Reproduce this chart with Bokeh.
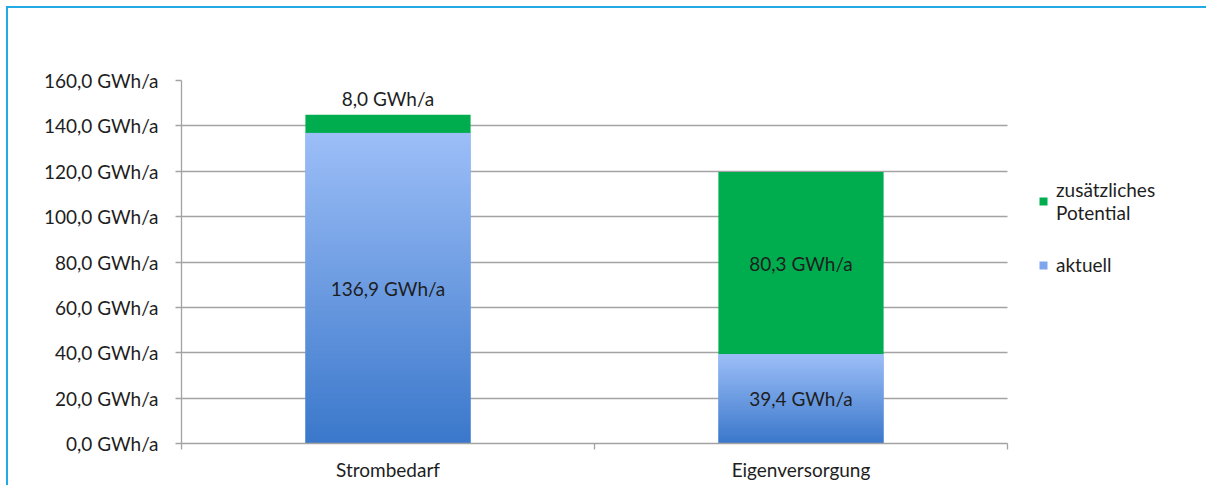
import numpy as np
from bokeh.plotting import figure
from bokeh.models import FixedTicker, Legend, LegendItem, Range1d, ColumnDataSource
from bokeh.core.properties import value
from bokeh.embed import file_html
from bokeh.resources import INLINE

# ---- data ----
categories = ["Strombedarf", "Eigenversorgung"]
aktuell = [136.9, 39.4]
potential = [8.0, 80.3]
y_ticks = [0, 20, 40, 60, 80, 100, 120, 140, 160]
series_labels = ["zusätzliches\nPotential", "aktuell"]

# ---- style ----
FONT = "Lato"
FS = "19px"
TXT = "#1e1e1e"
GRID = "#a3a3a3"
GREEN = "#00ad4e"
BLUE_TOP = (157, 191, 248)
BLUE_BOT = (59, 120, 203)
BLUE_MID = "#7ea6ec"
BAR_W = 0.4

W, H = 1200, 479
LEFT, TOP = 173, 72
BOTTOM = H - TOP - 363
PLOT_W = 826  # width of the category area in px


def fmt(v):
    return f"{v:.1f}".replace(".", ",") + " GWh/a"


n = len(categories)
xc = [i + 0.5 for i in range(n)]
totals = [a + b for a, b in zip(aktuell, potential)]
frame_w = W - LEFT
x_end = n * frame_w / PLOT_W

p = figure(width=W, height=H, x_range=Range1d(0, x_end), y_range=Range1d(y_ticks[0], y_ticks[-1]),
           output_backend="svg", toolbar_location=None,
           min_border_left=LEFT, min_border_top=TOP, min_border_right=0, min_border_bottom=BOTTOM)
p.styles = {"margin-left": "6px", "margin-top": "6px",
            "border-top": "2px solid #22aae6", "border-left": "2px solid #22aae6"}
p.outline_line_color = None
p.background_fill_color = "white"
p.border_fill_color = "white"

# bars
src = ColumnDataSource(dict(x=xc, akt=aktuell, pot=potential, tot=totals))
r_akt = p.vbar(x="x", bottom=0, top="akt", width=BAR_W, source=src,
               fill_color=BLUE_MID, line_color=None)
r_pot = p.vbar(x="x", bottom="akt", top="tot", width=BAR_W, source=src,
               fill_color=GREEN, line_color=None)

# gradient overlay for the "aktuell" bars
N = 256
t = np.linspace(0.0, 1.0, N)[:, None]
img = np.empty((N, 1), dtype=np.uint32)
view = img.view(dtype=np.uint8).reshape((N, 1, 4))
for k in range(3):
    view[:, :, k] = (BLUE_BOT[k] + (BLUE_TOP[k] - BLUE_BOT[k]) * t).astype(np.uint8)
view[:, :, 3] = 255
p.image_rgba(image=[img] * n, x=[c - BAR_W / 2 for c in xc], y=[0] * n,
             dw=[BAR_W] * n, dh=aktuell)

# data labels
in_x, in_y, in_t, ab_x, ab_y, ab_t = [], [], [], [], [], []
for i in range(n):
    in_x.append(xc[i]); in_y.append(aktuell[i] / 2); in_t.append(fmt(aktuell[i]))
    if potential[i] < 0.1 * y_ticks[-1]:
        ab_x.append(xc[i]); ab_y.append(totals[i]); ab_t.append(fmt(potential[i]))
    else:
        in_x.append(xc[i]); in_y.append(aktuell[i] + potential[i] / 2); in_t.append(fmt(potential[i]))
p.text(x=in_x, y=in_y, text=in_t, text_align="center", text_baseline="middle",
       text_font=value(FONT), text_font_size=FS, text_color=TXT)
p.text(x=ab_x, y=ab_y, text=ab_t, text_align="center", text_baseline="bottom", y_offset=-5,
       text_font=value(FONT), text_font_size=FS, text_color=TXT)

# axes
xa = p.xaxis[0]
xa.bounds = (0, n)
xa.ticker = FixedTicker(ticks=xc, minor_ticks=list(range(n + 1)))
xa.major_label_overrides = {c: lab for c, lab in zip(xc, categories)}
xa.major_tick_out = 0
xa.major_tick_in = 0
xa.minor_tick_out = 6
xa.minor_tick_in = 0
xa.minor_tick_line_color = GRID
xa.minor_tick_line_width = 1.3
xa.axis_line_color = GRID
xa.axis_line_width = 1.3
xa.major_label_standoff = 8
xa.major_label_text_font = FONT
xa.major_label_text_font_size = FS
xa.major_label_text_color = TXT

ya = p.yaxis[0]
ya.ticker = FixedTicker(ticks=y_ticks)
ya.major_label_overrides = {v: fmt(v) for v in y_ticks}
ya.major_tick_out = 6
ya.major_tick_in = 0
ya.minor_tick_line_color = None
ya.major_tick_line_color = GRID
ya.major_tick_line_width = 1.3
ya.axis_line_color = GRID
ya.axis_line_width = 1.3
ya.major_label_standoff = 17
ya.major_label_text_font = FONT
ya.major_label_text_font_size = FS
ya.major_label_text_color = TXT

p.xgrid.grid_line_color = None
p.ygrid.ticker = FixedTicker(ticks=y_ticks)
p.ygrid.cross_bounds = (0, n)
p.ygrid.grid_line_color = GRID
p.ygrid.grid_line_width = 1.3

legend = Legend(items=[LegendItem(label=series_labels[0], renderers=[r_pot]),
                       LegendItem(label=series_labels[1], renderers=[r_akt])],
                location=(857, 167), glyph_width=10, glyph_height=10, label_standoff=8,
                label_text_font=FONT, label_text_font_size=FS, label_text_color=TXT,
                label_text_line_height=1.35,
                border_line_color=None, background_fill_alpha=0, padding=0, margin=0,
                spacing=29)
p.add_layout(legend, "center")

open("out.html", "w").write(file_html(p, INLINE))
